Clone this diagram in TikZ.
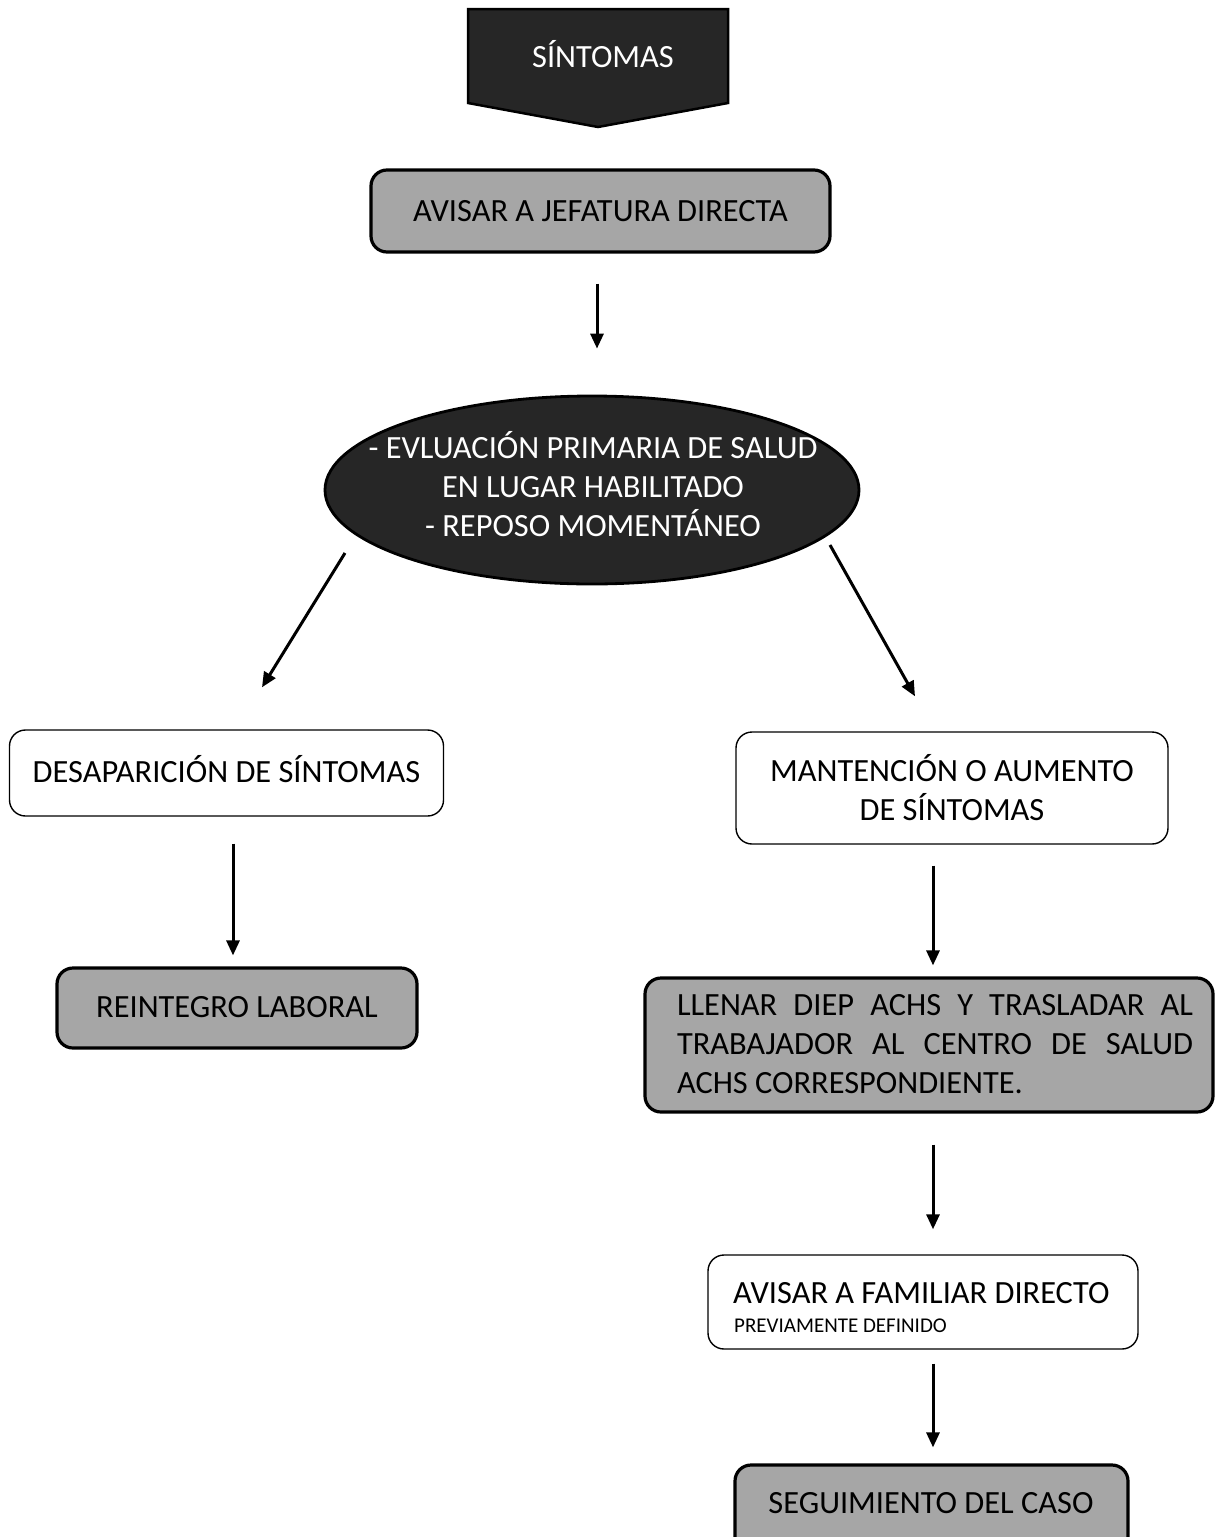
\documentclass[tikz,border=0pt]{standalone}
\usepackage{fontspec}
\setmainfont{Carlito}
\usetikzlibrary{arrows.meta,shapes.geometric}
\definecolor{darkf}{HTML}{262626}
\definecolor{grayf}{HTML}{A6A6A6}
\newcommand\bigf{\fontsize{32.4pt}{39pt}\selectfont}
\newcommand\smallf{\fontsize{21pt}{25pt}\selectfont}
\begin{document}
\begin{tikzpicture}[x=1pt,y=-1pt,
  graybox/.style={draw=black, fill=grayf, line width=3.2pt, rounded corners=16pt, inner sep=0pt, font=\bigf, text=black},
  whitebox/.style={draw=black, fill=white, line width=1.4pt, rounded corners=16pt, inner sep=0pt, font=\bigf, text=black},
  capsline/.style={text height=21pt, text depth=3pt},
  txt/.style={inner sep=0pt, font=\bigf},
  arr/.style={line width=3pt, -{Triangle[length=15pt,width=13pt]}}]
\useasboundingbox (0,0) rectangle (1217,1537);
\clip (0,0) rectangle (1217,1537);
% top off-page shape
\draw[fill=darkf, line width=2.5pt, line join=miter] (468,9) -- (728,9) -- (728,103) -- (598,127) -- (468,103) -- cycle;
\node[txt, text=white] (sym) at (603,54) {SÍNTOMAS};
% boxes
\node[graybox, minimum width=459pt, minimum height=82pt] (jef) at (600.5,211) {AVISAR A JEFATURA DIRECTA};
\node[ellipse, draw=black, fill=darkf, line width=2.8pt, minimum width=534pt, minimum height=188pt, inner sep=0pt] (ell) at (592,490) {};
\node[txt, text=white, align=center] (ellt) at (593,484) {- EVLUACIÓN PRIMARIA DE SALUD\\EN LUGAR HABILITADO\\- REPOSO MOMENTÁNEO};
\node[whitebox, capsline, minimum width=434pt, minimum height=86pt] (des) at (226.5,773) {DESAPARICIÓN DE SÍNTOMAS};
\node[whitebox, minimum width=432pt, minimum height=112pt, align=center] (man) at (952,788) {MANTENCIÓN O AUMENTO\\DE SÍNTOMAS};
\node[graybox, capsline, minimum width=360pt, minimum height=80pt] (rei) at (237,1008) {REINTEGRO LABORAL};
\node[graybox, minimum width=568pt, minimum height=134pt] (lle) at (929,1045) {};
\node[txt, text width=516pt, align=justify] (llet) at (935,1044) {LLENAR DIEP ACHS Y TRASLADAR AL\linebreak TRABAJADOR AL CENTRO DE SALUD\linebreak ACHS CORRESPONDIENTE.};
\node[whitebox, minimum width=430pt, minimum height=94pt] (fam) at (923,1302) {};
\node[txt, anchor=base west] (famA) at (733,1303) {AVISAR A FAMILIAR DIRECTO};
\node[inner sep=0pt, font=\smallf, anchor=base west] (famB) at (734,1332) {PREVIAMENTE DEFINIDO};
\node[graybox, minimum width=393pt, minimum height=100pt] (seg) at (931.5,1515) {};
\node[txt] (segt) at (931,1503) {SEGUIMIENTO DEL CASO};
% connectors
\draw[arr, shorten <=30pt, shorten >=46pt] ([xshift=-3.5pt]jef.south) -- ([xshift=5pt]ell.north);
\draw[arr] ([shift={(-247,63)}]ell.center) -- ([shift={(35.5,-42)}]des.north);
\draw[arr] ([shift={(238,55)}]ell.center) -- ([shift={(-37,-35)}]man.north);
\draw[arr, shorten <=27pt, shorten >=11pt] ([xshift=6.5pt]des.south) -- ([xshift=-4pt]rei.north);
\draw[arr, shorten <=21pt, shorten >=11pt] ([xshift=-19pt]man.south) -- ([xshift=4pt]lle.north);
\draw[arr, shorten <=31pt, shorten >=25pt] ([xshift=4pt]lle.south) -- ([xshift=10pt]fam.north);
\draw[arr, shorten <=14pt, shorten >=16pt] ([xshift=10pt]fam.south) -- ([xshift=1.5pt]seg.north);
\end{tikzpicture}
\end{document}
